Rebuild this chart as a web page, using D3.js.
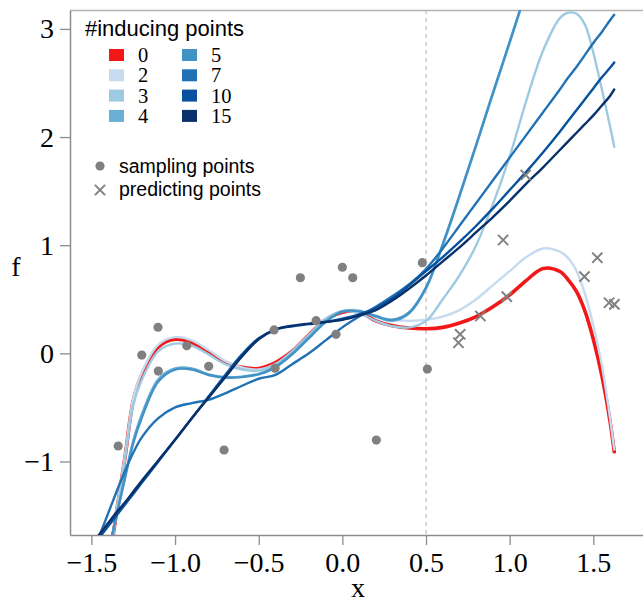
<!DOCTYPE html>
<html>
<head>
<meta charset="utf-8">
<script src="https://cdn.jsdelivr.net/npm/d3@7"></script>
<style>
  html, body { margin: 0; padding: 0; background: #fff; }
  svg { display: block; }
</style>
</head>
<body>
<svg id="chart" width="643" height="602"></svg>
<script>
// Predictive mean curves for a growing number of inducing points
const seriesLabels = ["0", "2", "3", "4", "5", "7", "10", "15"];
const seriesColors = ["#f21818", "#c6dbef", "#9ecae1", "#6baed6", "#4292c6", "#2171b5", "#08519c", "#08306b"];

// x positions at which each curve is listed
const curveX = [-1.5, -1.45, -1.4, -1.35, -1.3, -1.25, -1.2, -1.1, -1.0, -0.9, -0.8, -0.7, -0.6, -0.5, -0.4, -0.3, -0.2, -0.1, 0.0,
  0.1, 0.2, 0.3, 0.4, 0.5, 0.6, 0.7, 0.8, 0.9, 1.0, 1.1, 1.2, 1.3, 1.35, 1.4, 1.45, 1.5, 1.55, 1.6, 1.625];

const mean0 = [-3.3, -2.6, -2.0, -1.47, -0.97, -0.44, -0.2, 0.06, 0.13, 0.1, 0.01, -0.085, -0.13, -0.14, -0.085, 0.02, 0.17, 0.31, 0.38,
  0.385, 0.3, 0.255, 0.235, 0.228, 0.24, 0.28, 0.34, 0.43, 0.54, 0.675, 0.785, 0.757, 0.68, 0.57, 0.39, 0.13, -0.2, -0.63, -0.91];
const mean2 = [-3.3, -2.6, -2.0, -1.45, -0.95, -0.42, -0.18, 0.08, 0.15, 0.12, 0.03, -0.07, -0.13, -0.15, -0.1, 0.0, 0.15, 0.3, 0.39,
  0.4, 0.34, 0.31, 0.3, 0.31, 0.34, 0.4, 0.5, 0.63, 0.76, 0.89, 0.97, 0.94, 0.88, 0.76, 0.55, 0.26, -0.1, -0.6, -0.89];
const mean3 = [-3.3, -2.6, -2.0, -1.48, -0.99, -0.48, -0.25, 0.02, 0.09, 0.07, -0.01, -0.1, -0.15, -0.16, -0.1, 0.02, 0.17, 0.32, 0.39,
  0.37, 0.3, 0.25, 0.24, 0.3, 0.5, 0.72, 1.0, 1.38, 1.82, 2.34, 2.8, 3.1, 3.15, 3.14, 3.04, 2.78, 2.45, 2.1, 1.91];
const mean4 = [-2.55, -2.2, -1.86, -1.5, -1.15, -0.81, -0.57, -0.24, -0.14, -0.14, -0.195, -0.22, -0.215, -0.19, -0.12, 0.0, 0.15, 0.3, 0.39,
  0.39, 0.34, 0.3, 0.37, 0.6, 1.0, 1.45, 1.92, 2.4, 2.87, 3.35, 3.85, null, null, null, null, null, null, null, null];
const mean5 = [-2.5, -2.17, -1.84, -1.5, -1.16, -0.83, -0.6, -0.26, -0.15, -0.15, -0.2, -0.225, -0.22, -0.195, -0.13, -0.01, 0.14, 0.29, 0.385,
  0.39, 0.345, 0.31, 0.38, 0.61, 1.01, 1.46, 1.93, 2.41, 2.88, 3.36, 3.86, null, null, null, null, null, null, null, null];
const mean7 = [-1.88, -1.68, -1.48, -1.28, -1.09, -0.92, -0.78, -0.6, -0.5, -0.46, -0.43, -0.37, -0.3, -0.235, -0.2, -0.1, 0.0, 0.12, 0.24,
  0.34, 0.43, 0.53, 0.64, 0.78, 0.97, 1.18, 1.39, 1.6, 1.81, 2.02, 2.23, 2.44, 2.55, 2.65, 2.76, 2.87, 2.97, 3.08, 3.13];
const mean10 = [-1.8, -1.7, -1.6, -1.5, -1.4, -1.3, -1.2, -1.0, -0.8, -0.6, -0.4, -0.2, -0.01, 0.14, 0.22, 0.25, 0.27, 0.29, 0.32,
  0.36, 0.42, 0.51, 0.63, 0.76, 0.89, 1.03, 1.18, 1.34, 1.51, 1.68, 1.86, 2.05, 2.15, 2.25, 2.35, 2.45, 2.55, 2.64, 2.69];
const mean15 = [-1.76, -1.67, -1.57, -1.47, -1.38, -1.28, -1.18, -0.99, -0.8, -0.6, -0.41, -0.22, -0.03, 0.13, 0.22, 0.255, 0.275, 0.29, 0.31,
  0.35, 0.4, 0.49, 0.6, 0.72, 0.85, 0.98, 1.12, 1.26, 1.41, 1.57, 1.72, 1.88, 1.96, 2.04, 2.12, 2.2, 2.29, 2.38, 2.44];
const seriesMeans = [mean0, mean2, mean3, mean4, mean5, mean7, mean10, mean15];

// Observations used for fitting
const sampleX = [-1.34, -1.199, -1.102, -1.1, -0.93, -0.799, -0.707, -0.408, -0.402, -0.251, -0.157, -0.038, 0.0, 0.062, 0.203, 0.478, 0.508];
const sampleY = [-0.857, -0.016, 0.241, -0.164, 0.07, -0.12, -0.894, 0.216, -0.139, 0.699, 0.302, 0.176, 0.796, 0.699, -0.802, 0.838, -0.145];

// Held-out points to predict
const predictX = [0.694, 0.704, 0.825, 0.983, 0.961, 1.096, 1.447, 1.524, 1.594, 1.626];
const predictY = [0.098, 0.176, 0.345, 0.524, 1.048, 1.649, 0.709, 0.884, 0.468, 0.453];

const xTicks = [-1.5, -1.0, -0.5, 0.0, 0.5, 1.0, 1.5];
const yTicks = [-1, 0, 1, 2, 3];
const splitX = 0.5;

const svg = d3.select("#chart");
const W = 643, H = 602;
const plotLeft = 70, plotTop = 10, plotBottom = 535, plotRight = W;

const x = d3.scaleLinear().domain([-1.628, 1.797]).range([plotLeft, plotRight]);
const y = d3.scaleLinear().domain([-1.68, 3.175]).range([plotBottom, plotTop]);

const serif = "'Liberation Serif', 'Times New Roman', serif";
const sans = "'Liberation Sans', Arial, sans-serif";

svg.append("defs").append("clipPath").attr("id", "plotclip")
  .append("rect").attr("x", plotLeft).attr("y", plotTop)
  .attr("width", plotRight - plotLeft).attr("height", plotBottom - plotTop);

// frame: top border
svg.append("line").attr("x1", plotLeft).attr("x2", plotRight).attr("y1", plotTop + 0.5).attr("y2", plotTop + 0.5)
  .attr("stroke", "#b4b4b4").attr("stroke-width", 1.5);

// axes
const yAxis = d3.axisLeft(y).tickValues(yTicks).tickSize(10).tickSizeOuter(0).tickPadding(6)
  .tickFormat(d3.format("d"));
const xAxis = d3.axisBottom(x).tickValues(xTicks).tickSize(10).tickSizeOuter(0).tickPadding(7)
  .tickFormat(d3.format(".1f"));

const gy = svg.append("g").attr("transform", `translate(${plotLeft},0)`).call(yAxis);
const gx = svg.append("g").attr("transform", `translate(0,${plotBottom})`).call(xAxis);
[gx, gy].forEach(g => {
  g.select(".domain").attr("stroke", "#8c8c8c").attr("stroke-width", 1.5);
  g.selectAll(".tick line").attr("stroke", "#8c8c8c").attr("stroke-width", 1.3);
  g.selectAll(".tick text").attr("fill", "#000").style("font-family", serif).style("font-size", "28px");
});

svg.append("text").attr("x", 358).attr("y", 597).attr("text-anchor", "middle")
  .style("font-family", serif).style("font-size", "28px").text("x");
svg.append("text").attr("x", 16).attr("y", 276).attr("text-anchor", "middle")
  .style("font-family", serif).style("font-size", "28px").text("f");

const plot = svg.append("g").attr("clip-path", "url(#plotclip)");

// boundary between observed and predicted region
plot.append("line").attr("x1", x(splitX)).attr("x2", x(splitX)).attr("y1", plotTop).attr("y2", plotBottom)
  .attr("stroke", "#bdbdbd").attr("stroke-width", 1.2).attr("stroke-dasharray", "4,4");

const line = d3.line()
  .defined(d => d[1] !== null)
  .x(d => x(d[0])).y(d => y(d[1]))
  .curve(d3.curveCatmullRom.alpha(0.5));

seriesMeans.forEach((vals, i) => {
  const pts = curveX.map((cx, j) => [cx, vals[j]]);
  plot.append("path").attr("d", line(pts)).attr("fill", "none")
    .attr("stroke", seriesColors[i]).attr("stroke-width", i === 0 ? 3.6 : 2.4)
    .attr("stroke-linejoin", "round").attr("stroke-linecap", "round");
});

// observations
plot.selectAll("circle.sample").data(sampleX.map((v, i) => [v, sampleY[i]])).enter()
  .append("circle").attr("class", "sample")
  .attr("cx", d => x(d[0])).attr("cy", d => y(d[1])).attr("r", 4.6).attr("fill", "#808080");

const cross = d3.symbol().type(d3.symbolTimes).size(70);
plot.selectAll("path.predict").data(predictX.map((v, i) => [v, predictY[i]])).enter()
  .append("path").attr("class", "predict")
  .attr("transform", d => `translate(${x(d[0])},${y(d[1])})`)
  .attr("d", cross).attr("fill", "none").attr("stroke", "#808080").attr("stroke-width", 2);

// legend
const lg = svg.append("g");
lg.append("text").attr("x", 85).attr("y", 36).style("font-family", sans).style("font-size", "22px")
  .attr("fill", "#000").text("#inducing points");
seriesLabels.forEach((lab, i) => {
  const col = Math.floor(i / 4), row = i % 4;
  const sx = 109 + col * 73, cy = 55 + row * 20.3;
  lg.append("rect").attr("x", sx).attr("y", cy - 6).attr("width", 15).attr("height", 12).attr("fill", seriesColors[i]);
  lg.append("text").attr("x", sx + 29).attr("y", cy + 7).style("font-family", serif).style("font-size", "20.5px")
    .attr("fill", "#000").text(lab);
});
lg.append("circle").attr("cx", 100).attr("cy", 166).attr("r", 4.6).attr("fill", "#808080");
lg.append("text").attr("x", 119).attr("y", 173).style("font-family", sans).style("font-size", "19.5px").text("sampling points");
lg.append("path").attr("transform", "translate(100,190)").attr("d", cross)
  .attr("fill", "none").attr("stroke", "#808080").attr("stroke-width", 2);
lg.append("text").attr("x", 119).attr("y", 196).style("font-family", sans).style("font-size", "19.5px").text("predicting points");
</script>
</body>
</html>
